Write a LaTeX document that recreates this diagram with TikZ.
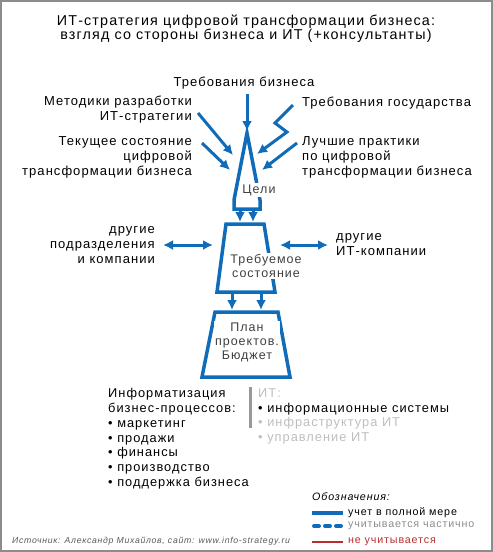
\documentclass[tikz,border=0pt]{standalone}
\usepackage{fontspec}
\setmainfont{Liberation Sans}[LetterSpace=8]
\usetikzlibrary{arrows.meta}
\definecolor{itblue}{RGB}{16,108,184}
\definecolor{lightgr}{RGB}{190,190,190}
\definecolor{midgr}{RGB}{140,140,140}
\definecolor{darkred}{RGB}{185,45,45}
\tikzset{
  frame/.style={draw=black!45, line width=2pt},
  stage/.style={draw=itblue, line width=3.5pt, line join=miter},
  ttl/.style={font=\fontsize{14.3}{14.5}\selectfont, align=center, inner sep=0pt},
  lbl/.style={font=\fontsize{13}{15}\selectfont, inner sep=0pt},
  inlbl/.style={font=\fontsize{12.5}{14}\selectfont, text=black!75, fill=white, inner sep=1.5pt, align=center},
  list/.style={font=\fontsize{12.8}{14.7}\selectfont, inner sep=0pt, align=left},
  leg/.style={font=\fontsize{10.7}{13}\selectfont, inner sep=0pt}
}
\tikzstyle{arrow} = [-{Latex[length=10pt,width=10pt]}, draw=itblue, line width=3pt, line join=miter]
\tikzstyle{darrow} = [{Latex[length=10pt,width=10pt]}-{Latex[length=10pt,width=10pt]}, draw=itblue, line width=3pt]
\def\gr#1{\textcolor{lightgr}{#1}}

\begin{document}
\begin{tikzpicture}[x=1pt, y=-1pt]
    \useasboundingbox (0,0) rectangle (493,552);
    \draw[frame] (1,1) rectangle (492,551);
    \node[ttl] (title) at (246,28.5) {ИТ-стратегия цифровой трансформации бизнеса:\\взгляд со стороны бизнеса и ИТ (+консультанты)};
    \node[lbl] (biz) at (244,83) {Требования бизнеса};
    \node[lbl, anchor=east, align=right] (meth) at (192,110) {Методики разработки\\ИТ-стратегии};
    \node[lbl, anchor=east, align=right] (cur) at (192,157) {Текущее состояние\\цифровой\\трансформации бизнеса};
    \node[lbl, anchor=west] (gov) at (302,103) {Требования государства};
    \node[lbl, anchor=west, align=left] (best) at (302,157) {Лучшие практики\\по цифровой\\трансформации бизнеса};
    \node[lbl, anchor=east, align=right] (dep) at (155,245) {другие\\подразделения\\и компании};
    \node[lbl, anchor=west, align=left] (itc) at (336,245) {другие\\ИТ-компании};
    \draw[stage] (247,133) -- (260,200) -- (260,209) -- (234,209) -- (234,200) -- cycle;
    \draw[stage] (226,224) -- (264,224) -- (275,292) -- (217,292) -- cycle;
    \draw[stage] (215,312) -- (278,312) -- (290,377) -- (202,377) -- cycle;
    \node[inlbl] (goal) at (259,190) {Цели};
    \node[inlbl] (target) at (266,266) {Требуемое\\состояние};
    \node[inlbl] (plan) at (247,342) {План\\проектов.\\Бюджет};
    \coordinate (bizs) at (247,94);
    \coordinate (bize) at (247,131);
    \coordinate (meths) at (198,113);
    \coordinate (methe) at (233,155);
    \coordinate (curs) at (202,143);
    \coordinate (cure) at (230,170);
    \coordinate (govs) at (293,105);
    \coordinate (gov1) at (275,123);
    \coordinate (gov2) at (287,132);
    \coordinate (gove) at (257,154);
    \coordinate (bests) at (297,143);
    \coordinate (beste) at (262,170);
    \draw[arrow] (bizs) -- (bize);
    \draw[arrow] (meths) -- (methe);
    \draw[arrow] (curs) -- (cure);
    \draw[arrow] (govs) -- (gov1) -- (gov2) -- (gove);
    \draw[arrow] (bests) -- (beste);
    \coordinate (g1) at (240,209);
    \coordinate (g2) at (253,209);
    \coordinate (t1) at (240,222);
    \coordinate (t2) at (253,222);
    \coordinate (t3) at (232,292);
    \coordinate (t4) at (261,292);
    \coordinate (p1) at (232,310);
    \coordinate (p2) at (261,310);
    \draw[arrow] (g1) -- (t1);
    \draw[arrow] (g2) -- (t2);
    \draw[arrow] (t3) -- (p1);
    \draw[arrow] (t4) -- (p2);
    \coordinate (dl1) at (163,245);
    \coordinate (dl2) at (213,245);
    \coordinate (dr1) at (280,245);
    \coordinate (dr2) at (328,245);
    \draw[darrow] (dl1) -- (dl2);
    \draw[darrow] (dr1) -- (dr2);
    \node[list, anchor=north west] (proc) at (108,388.5) {Информатизация\\бизнес-процессов:\\• маркетинг\\• продажи\\• финансы\\• производство\\• поддержка бизнеса};
    \coordinate (bar1) at (250,387);
    \coordinate (bar2) at (250,428);
    \draw[draw=black!40, line width=3pt] (bar1) -- (bar2);
    \node[list, anchor=north west] (it) at (258,388.5) {\gr{ИТ:}\\• информационные системы\\\gr{• инфраструктура ИТ}\\\gr{• управление ИТ}};
    \node[leg, anchor=west, font=\fontsize{10.7}{13}\selectfont\itshape] (legt) at (312,497) {Обозначения:};
    \coordinate (lf1) at (312,513);
    \coordinate (lf2) at (343,513);
    \coordinate (lp1) at (314,526);
    \coordinate (lp2) at (343,526);
    \coordinate (ln1) at (312,542);
    \coordinate (ln2) at (343,542);
    \draw[draw=itblue, line width=3.5pt] (lf1) -- (lf2);
    \draw[draw=itblue, line width=4pt, line cap=round, dash pattern=on 5pt off 6pt] (lp1) -- (lp2);
    \draw[draw=darkred, line width=1.2pt] (ln1) -- (ln2);
    \node[leg, anchor=west] (lfull) at (348,513) {учет в полной мере};
    \node[leg, anchor=west, text=midgr] (lpart) at (348,526) {учитывается частично};
    \node[leg, anchor=west, text=darkred] (lnone) at (348,542) {не учитывается};
    \node[leg, anchor=west, font=\fontsize{8.7}{11}\selectfont\itshape, text=black!65] (src) at (12,541) {Источник: Александр Михайлов, сайт: www.info-strategy.ru};
\end{tikzpicture}
\end{document}
